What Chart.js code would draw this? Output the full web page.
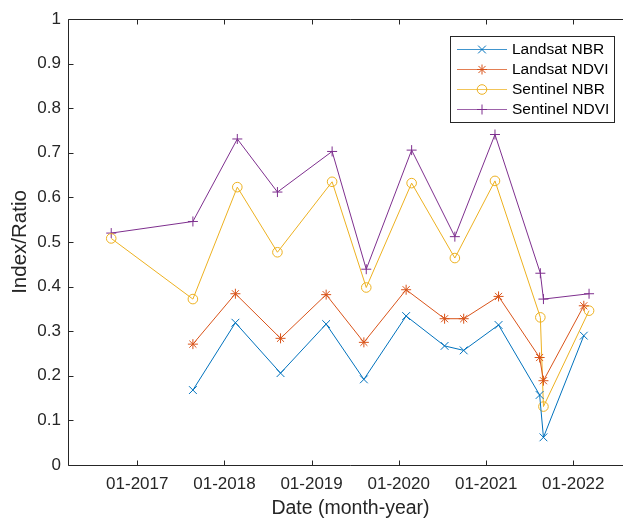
<!DOCTYPE html>
<html>
<head>
<meta charset="utf-8">
<script src="https://cdn.jsdelivr.net/npm/chart.js@4.4.1/dist/chart.umd.min.js"></script>
<style>
  html, body { margin: 0; padding: 0; background: #fff; overflow: hidden; }
  /* the original figure is cropped on the right, so the canvas runs past the window */
  #wrap { width: 633px; height: 520px; }
</style>
</head>
<body>
<div id="wrap"><canvas id="c" width="633" height="520"></canvas></div>
<script>
// Acquisition dates (Sentinel and Landsat scenes were not taken on the same days).
const sentinelDates = ["2016-09-14", "2017-08-22", "2018-02-24", "2018-08-11", "2019-03-28", "2019-08-18",
                       "2020-02-24", "2020-08-23", "2021-02-07", "2021-08-16", "2021-08-29", "2022-03-08"];
const landsatDates = ["2017-08-22", "2018-02-16", "2018-08-24", "2019-03-03", "2019-08-08", "2020-02-01",
                      "2020-07-11", "2020-09-29", "2021-02-22", "2021-08-13", "2021-08-29", "2022-02-14"];

const landsatNbr   = [0.168, 0.319, 0.206, 0.316, 0.192, 0.334, 0.267, 0.257, 0.314, 0.157, 0.062, 0.290];
const landsatNdvi  = [0.271, 0.384, 0.284, 0.382, 0.275, 0.393, 0.328, 0.328, 0.378, 0.241, 0.189, 0.357];
const sentinelNbr  = [0.508, 0.372, 0.623, 0.477, 0.635, 0.398, 0.632, 0.464, 0.637, 0.331, 0.131, 0.346];
const sentinelNdvi = [0.520, 0.546, 0.731, 0.612, 0.703, 0.439, 0.706, 0.512, 0.741, 0.430, 0.372, 0.384];

const tickYears = [2017, 2018, 2019, 2020, 2021, 2022];
const xMin = "2016-03-17";
const xMax = "2022-09-08";

const FONT = "'Liberation Sans', Arial, Helvetica, sans-serif";
const AXIS_COLOR = "#262626";

function toPoints(dates, values) {
    return dates.map((d, i) => ({ x: Date.parse(d), y: values[i] }));
}

function series(label, dates, values, color, style, radius) {
    return {
        label,
        data: toPoints(dates, values),
        borderColor: color,
        backgroundColor: "rgba(0,0,0,0)",
        borderWidth: 1,
        pointStyle: style,
        pointRadius: radius,
        pointBorderColor: color,
        pointBackgroundColor: "rgba(0,0,0,0)",
        pointBorderWidth: 1,
        tension: 0,
    };
}

// MATLAB-style box with inward ticks.
const frame = {
    id: "frame",
    afterDatasetsDraw(chart) {
        const { ctx, chartArea: a, scales } = chart;
        const L = Math.round(a.left) + 0.5;
        const T = Math.round(a.top) + 0.5;
        const B = Math.round(a.bottom) + 0.5;
        const R = a.right;
        ctx.save();
        ctx.strokeStyle = AXIS_COLOR;
        ctx.lineWidth = 1;
        ctx.beginPath();
        ctx.moveTo(R, T); ctx.lineTo(L, T); ctx.lineTo(L, B); ctx.lineTo(R, B);
        scales.x.ticks.forEach((t) => {
            const x = Math.round(scales.x.getPixelForValue(t.value)) + 0.5;
            ctx.moveTo(x, B); ctx.lineTo(x, B - 5);
            ctx.moveTo(x, T); ctx.lineTo(x, T + 5);
        });
        scales.y.ticks.forEach((t) => {
            const y = Math.round(scales.y.getPixelForValue(t.value)) + 0.5;
            ctx.moveTo(L, y); ctx.lineTo(L + 5, y);
        });
        ctx.stroke();
        ctx.restore();
    },
};

// Legend box: a line sample with the marker in the middle, like MATLAB.
const boxLegend = {
    id: "boxLegend",
    afterDraw(chart) {
        const { ctx } = chart;
        const box = { left: 450.5, top: 36.5, right: 614.5, bottom: 122.5 };
        ctx.save();
        ctx.fillStyle = "#fff";
        ctx.fillRect(box.left, box.top, box.right - box.left, box.bottom - box.top);
        ctx.strokeStyle = "#262626";
        ctx.lineWidth = 1;
        ctx.strokeRect(box.left, box.top, box.right - box.left, box.bottom - box.top);
        ctx.font = "15.5px " + FONT;
        ctx.textBaseline = "middle";
        ctx.textAlign = "left";
        chart.data.datasets.forEach((ds, i) => {
            const y = 49.5 + i * 20;
            ctx.strokeStyle = ds.borderColor;
            ctx.globalAlpha = 0.75;
            ctx.beginPath();
            ctx.moveTo(457, y); ctx.lineTo(507, y);
            ctx.stroke();
            ctx.globalAlpha = 1;
            ctx.fillStyle = "rgba(0,0,0,0)";
            Chart.helpers.drawPoint(ctx, {
                pointStyle: ds.pointStyle,
                radius: ds.pointRadius,
                rotation: 0,
                borderWidth: 1,
            }, 482, y);
            ctx.fillStyle = "#000";
            ctx.fillText(ds.label, 512, y + 0.5);
        });
        ctx.restore();
    },
};

new Chart(document.getElementById("c").getContext("2d"), {
    type: "line",
    data: {
        datasets: [
            series("Landsat NBR", landsatDates, landsatNbr, "#0072BD", "crossRot", 5.5),
            series("Landsat NDVI", landsatDates, landsatNdvi, "#D95319", "star", 5),
            series("Sentinel NBR", sentinelDates, sentinelNbr, "#EDB120", "circle", 4.8),
            series("Sentinel NDVI", sentinelDates, sentinelNdvi, "#7E2F8E", "cross", 5),
        ],
    },
    options: {
        responsive: false,
        animation: false,
        layout: { autoPadding: false, padding: { top: 19, right: 0, bottom: 0, left: 0 } },
        plugins: {
            legend: { display: false },
            tooltip: { enabled: false },
        },
        scales: {
            x: {
                type: "linear",
                min: Date.parse(xMin),
                max: Date.parse(xMax),
                grid: { display: false, drawTicks: false },
                border: { display: false },
                afterBuildTicks: (scale) => {
                    scale.ticks = tickYears.map((y) => ({ value: Date.UTC(y, 0, 1) }));
                },
                afterFit: (scale) => {
                    scale.height = 55;
                    scale.paddingLeft = 0;
                    scale.paddingRight = 0;
                },
                ticks: {
                    autoSkip: false,
                    maxRotation: 0,
                    padding: 9,
                    color: AXIS_COLOR,
                    font: { family: FONT, size: 17 },
                    callback: (v) => "01-" + new Date(v).getUTCFullYear(),
                },
                title: {
                    display: true,
                    text: "Date (month-year)",
                    color: AXIS_COLOR,
                    font: { family: FONT, size: 19.5 },
                    padding: { top: 0, bottom: 0 },
                },
            },
            y: {
                min: 0,
                max: 1,
                grid: { display: false, drawTicks: false },
                border: { display: false },
                afterFit: (scale) => { scale.width = 68; },
                ticks: {
                    stepSize: 0.1,
                    padding: 7,
                    color: AXIS_COLOR,
                    font: { family: FONT, size: 17 },
                    callback: (v) => String(+v.toFixed(1)),
                },
                title: {
                    display: true,
                    text: "Index/Ratio",
                    color: AXIS_COLOR,
                    font: { family: FONT, size: 20.5 },
                    padding: { top: 8, bottom: 0 },
                },
            },
        },
    },
    plugins: [frame, boxLegend],
});
</script>
</body>
</html>
